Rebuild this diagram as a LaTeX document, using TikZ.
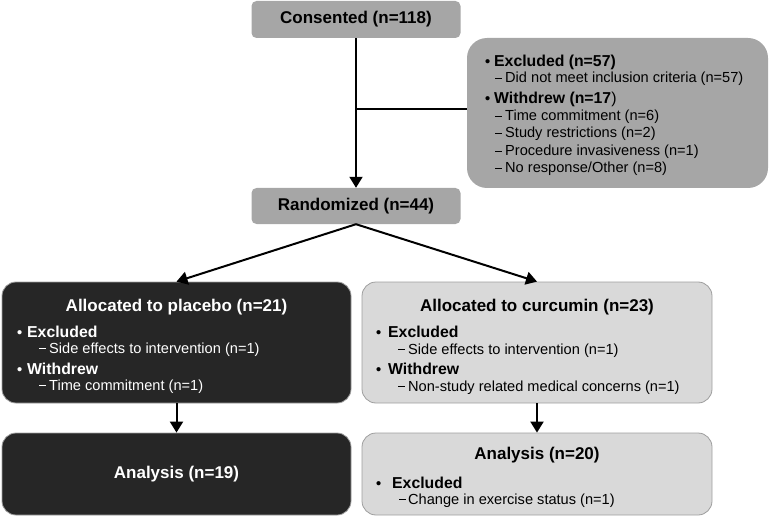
\documentclass[tikz,border=0pt]{standalone}
\usepackage{fontspec}
\setmainfont{Liberation Sans}
\usetikzlibrary{arrows.meta}
\definecolor{midgrey}{HTML}{A6A6A6}
\definecolor{lightgrey}{HTML}{D9D9D9}
\definecolor{edgegrey}{HTML}{9E9E9E}
\definecolor{darkfill}{HTML}{262626}
\newcommand{\ttlfont}{\fontsize{17}{20}\selectfont\bfseries}
\newcommand{\hdfont}{\fontsize{15.8}{19}\selectfont\bfseries}
\newcommand{\smfont}{\fontsize{14.6}{17}\selectfont}
\newcommand{\itm}[2][10pt]{\makebox[#1][l]{\smfont•}#2}
\newcommand{\subitm}[2][10pt]{\makebox[#1][l]{\rule[0.24em]{6.5pt}{1.1pt}}#2}

\begin{document}
\begin{tikzpicture}[x=1pt,y=-1pt,
    box/.style={rectangle,inner sep=0pt},
    greybox/.style={box,fill=midgrey,rounded corners=5pt},
    darkbox/.style={box,fill=darkfill,draw=edgegrey,line width=0.8pt,rounded corners=14pt},
    lightbox/.style={box,fill=lightgrey,draw=edgegrey,line width=0.8pt,rounded corners=14pt},
    txt/.style={anchor=base west,inner sep=0pt},
    ttl/.style={anchor=base,inner sep=0pt,font=\ttlfont},
    link/.style={line width=2pt,-{Triangle[length=11pt,width=13pt]}}]
  \useasboundingbox (0,0) rectangle (769,516);
  % top of the chart
  \node[greybox,minimum width=209pt,minimum height=37pt,font=\ttlfont] (consented) at (356,19.5) {Consented (n=118)};
  \node[greybox,minimum width=209pt,minimum height=36pt,font=\ttlfont] (randomized) at (356,206) {Randomized (n=44)};
  \node[greybox,rounded corners=20pt,minimum width=301pt,minimum height=150pt] (excl) at (617.5,113) {};
  \node[txt,font=\hdfont] (exclA) at (485,67) {\itm[9pt]{Excluded (n=57)}};
  \node[txt,font=\smfont] (exclA1) at (495,83) {\subitm{Did not meet inclusion criteria (n=57)}};
  \node[txt,font=\hdfont] (exclB) at (485,104) {\itm[9pt]{Withdrew (n=17\mdseries)}};
  \node[txt,font=\smfont] (exclB1) at (495,121) {\subitm{Time commitment (n=6)}};
  \node[txt,font=\smfont] (exclB2) at (495,138) {\subitm{Study restrictions (n=2)}};
  \node[txt,font=\smfont] (exclB3) at (495,156) {\subitm{Procedure invasiveness (n=1)}};
  \node[txt,font=\smfont] (exclB4) at (495,173) {\subitm{No response/Other (n=8)}};
  \coordinate (split) at (356,109);
  \draw[line width=2pt] (split) -- (split -| excl.west);
  \draw[link] (consented.south) -- (randomized.north);

  % placebo arm
  \node[darkbox,minimum width=349pt,minimum height=121pt] (placebo) at (176.5,342.5) {};
  \node[ttl,text=white] (placeboT) at (176.5,311) {Allocated to placebo (n=21)};
  \node[txt,font=\hdfont,text=white] (placeboA) at (17,337) {\itm{Excluded}};
  \node[txt,font=\smfont,text=white] (placeboA1) at (39,353) {\subitm{Side effects to intervention (n=1)}};
  \node[txt,font=\hdfont,text=white] (placeboB) at (17,374) {\itm{Withdrew}};
  \node[txt,font=\smfont,text=white] (placeboB1) at (39,390) {\subitm{Time commitment (n=1)}};
  \node[darkbox,minimum width=349pt,minimum height=82pt,font=\ttlfont,text=white] (anaplac) at (176.5,474) {Analysis (n=19)};

  % curcumin arm
  \node[lightbox,minimum width=350pt,minimum height=121pt] (curcumin) at (537,342.5) {};
  \node[ttl] (curcuminT) at (537,311) {Allocated to curcumin (n=23)};
  \node[txt,font=\hdfont] (curcuminA) at (376,337) {\itm[12pt]{Excluded}};
  \node[txt,font=\smfont] (curcuminA1) at (398,354) {\subitm{Side effects to intervention (n=1)}};
  \node[txt,font=\hdfont] (curcuminB) at (376,374) {\itm[12pt]{Withdrew}};
  \node[txt,font=\smfont] (curcuminB1) at (398,391) {\subitm{Non-study related medical concerns (n=1)}};
  \node[lightbox,minimum width=350pt,minimum height=82pt] (anacurc) at (537,474) {};
  \node[ttl] (anacurcT) at (537,459) {Analysis (n=20)};
  \node[txt,font=\hdfont] (anacurcA) at (376,488) {\itm[16pt]{Excluded}};
  \node[txt,font=\smfont] (anacurcA1) at (399,504) {\subitm[9pt]{Change in exercise status (n=1)}};

  \draw[link] (randomized.south) -- (placebo.north);
  \draw[link] (randomized.south) -- (curcumin.north);
  \draw[link] (placebo.south) -- (anaplac.north);
  \draw[link] (curcumin.south) -- (anacurc.north);
\end{tikzpicture}
\end{document}
